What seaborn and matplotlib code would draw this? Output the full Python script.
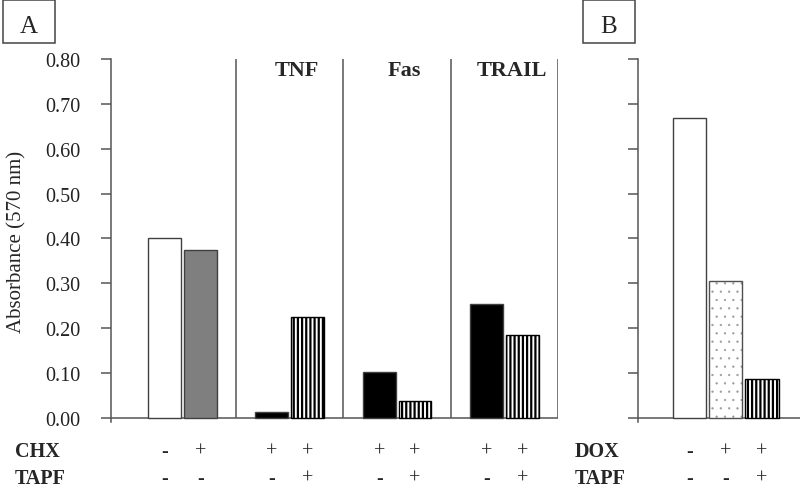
import numpy as np
import pandas as pd
import matplotlib
matplotlib.use("Agg")
import matplotlib.pyplot as plt
from matplotlib.patches import Rectangle
from matplotlib.colors import to_rgba
from matplotlib.transforms import blended_transform_factory
import seaborn as sns

# ---------------- data ----------------
a_groups = ["", "TNF", "Fas", "TRAIL"]
a_values = [0.401, 0.375, 0.013, 0.225, 0.102, 0.037, 0.255, 0.185]
a_chx = ["-", "+", "+", "+", "+", "+", "+", "+"]
a_tapf = ["-", "-", "-", "+", "-", "+", "-", "+"]

b_values = [0.668, 0.305, 0.087]
b_dox = ["-", "+", "+"]
b_tapf = ["-", "-", "+"]

y_ticks = [0.00, 0.10, 0.20, 0.30, 0.40, 0.50, 0.60, 0.70, 0.80]
y_tick_labels = ["0.00", "0.10", "0.20", "0.30", "0.40", "0.50", "0.60", "0.70", "0.80"]
y_label = "Absorbance (570 nm)"

# ---------------- style ----------------
sns.set_style("ticks")
plt.rcParams["font.family"] = ["Liberation Serif", "DejaVu Serif"]
plt.rcParams["hatch.linewidth"] = 1.6

W, H = 800, 489
fig = plt.figure(figsize=(W / 100, H / 100), dpi=100)

AX_COL = "#555555"
YMIN, YMAX = -0.009, 0.80
top_px, bot_px = 60, 423


def fy(px):
    return 1 - px / H


axA = fig.add_axes([111 / W, fy(bot_px), (558 - 111) / W, (bot_px - top_px) / H])
axB = fig.add_axes([638 / W, fy(bot_px), (800 - 638) / W, (bot_px - top_px) / H])

# positions: 2 bars per group, groups separated by a gap of one slot
a_pos = [3 * (i // 2) + (i % 2) for i in range(len(a_values))]
b_pos = list(range(len(b_values)))

a_fill = ["white", "#7f7f7f", "black", "white", "black", "white", "black", "white"]
a_hatch = [None, None, None, "||||", None, "||||", None, "||||"]
b_fill = ["white", "white", "white"]
b_hatch = [None, "..", "||||"]
b_edge = ["#404040", "#505050", "black"]

sns.barplot(x=a_pos, y=a_values, native_scale=True, width=0.92, color="white",
            edgecolor="#404040", linewidth=1.0, ax=axA)
sns.barplot(x=b_pos, y=b_values, native_scale=True, width=0.92, color="white",
            edgecolor="#404040", linewidth=1.0, ax=axB)

for p, fc, h in zip(axA.patches, a_fill, a_hatch):
    p.set_facecolor(fc)
    p.set_edgecolor("black" if h else "#404040")
    if h:
        p.set_hatch(h)
for p, fc, h, ec in zip(axB.patches, b_fill, b_hatch, b_edge):
    p.set_facecolor(fc)
    p.set_edgecolor(ec)
    if h:
        p.set_hatch(h)
    if h == "..":
        # light, fine dots
        p._hatch_color = to_rgba("#9a9a9a")
        if hasattr(p, "_hatch_linewidth"):
            p._hatch_linewidth = 0.4

for ax in (axA, axB):
    ax.set_ylim(YMIN, YMAX)
    ax.set_yticks(y_ticks)
    ax.set_xticks([])
    ax.set_xlabel("")
    ax.set_ylabel("")
    for s in ("top", "right", "bottom"):
        ax.spines[s].set_visible(False)
    ax.spines["left"].set_color(AX_COL)
    ax.spines["left"].set_linewidth(1.1)
    ax.tick_params(axis="y", direction="out", length=7, width=1.1, color=AX_COL,
                   pad=15, labelsize=14.5, labelcolor="#222222")
    ax.axhline(0, color=AX_COL, lw=1.1, zorder=0.5)

axA.set_xlim(-1.5, 11)
axB.set_xlim(-1.42, 3.05)
axA.set_yticklabels(y_tick_labels)
axB.tick_params(axis="y", labelleft=False)

# group dividers
axA.vlines([2, 5, 8, 11], 0, YMAX, color=AX_COL, lw=1.1)

# group names
for g, name in enumerate(a_groups):
    if name:
        axA.text(3 * g + 0.5 + 0.2, 0.764, name, ha="center", va="baseline",
                 fontweight="bold", fontsize=16)

axA.set_ylabel(y_label, fontsize=15)
axA.yaxis.set_label_coords((26 - 111) / 447, 0.5)

# treatment rows
row1, row2 = fy(457), fy(484)
tA = blended_transform_factory(axA.transData, fig.transFigure)
for x, c, t in zip(a_pos, a_chx, a_tapf):
    axA.text(x, row1, c, transform=tA, ha="center", va="baseline", fontsize=14.5)
    axA.text(x, row2, t, transform=tA, ha="center", va="baseline", fontsize=14.5)
tB = blended_transform_factory(axB.transData, fig.transFigure)
for x, c, t in zip(b_pos, b_dox, b_tapf):
    axB.text(x, row1, c, transform=tB, ha="center", va="baseline", fontsize=14.5)
    axB.text(x, row2, t, transform=tB, ha="center", va="baseline", fontsize=14.5)

fig.text(15 / W, row1, "CHX", ha="left", va="baseline", fontweight="bold", fontsize=14.5)
fig.text(15 / W, row2, "TAPF", ha="left", va="baseline", fontweight="bold", fontsize=14.5)
fig.text(575 / W, row1, "DOX", ha="left", va="baseline", fontweight="bold", fontsize=14.5)
fig.text(575 / W, row2, "TAPF", ha="left", va="baseline", fontweight="bold", fontsize=14.5)

# panel letter boxes
for x0, letter in ((3, "A"), (583, "B")):
    fig.patches.append(Rectangle((x0 / W, fy(44)), 52 / W, 43 / H, transform=fig.transFigure,
                                 fill=False, edgecolor="#444444", lw=1.1))
    fig.text((x0 + 26) / W, fy(33), letter, ha="center", va="baseline", fontsize=18)

fig.savefig("out.png", dpi=100)
